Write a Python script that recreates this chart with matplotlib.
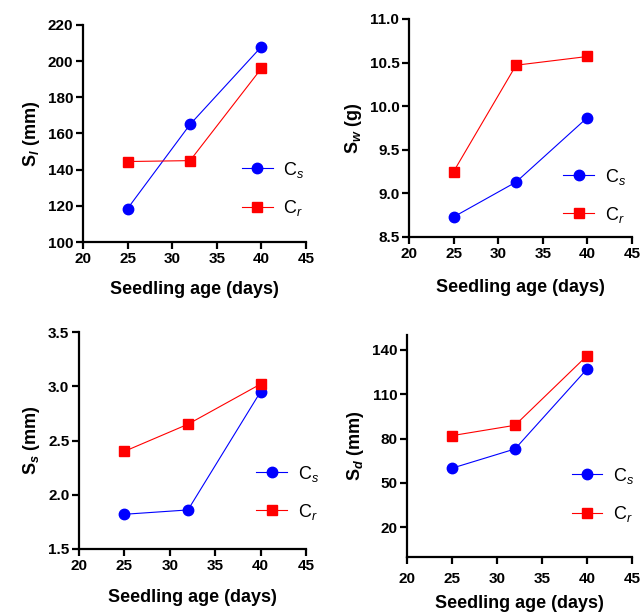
import matplotlib.pyplot as plt

plt.rcParams['font.family'] = ['Liberation Sans', 'DejaVu Sans']
plt.rcParams['mathtext.fontset'] = 'custom'
plt.rcParams['mathtext.rm'] = 'Liberation Sans'
plt.rcParams['mathtext.it'] = 'Liberation Sans:italic'
plt.rcParams['mathtext.bf'] = 'Liberation Sans:bold'
plt.rcParams['mathtext.bfit'] = 'Liberation Sans:italic:bold'

age = [25, 32, 40]

# seedling length (mm)
sl_cs = [118.5, 165, 208]
sl_cr = [144.5, 145, 196]
# seedling weight (g)
sw_cs = [8.73, 9.13, 9.87]
sw_cr = [9.25, 10.47, 10.57]
# stem size (mm)
ss_cs = [1.82, 1.86, 2.95]
ss_cr = [2.40, 2.65, 3.02]
# S_d (mm)
sd_cs = [60, 73, 127]
sd_cr = [82, 89, 136]

W, H = 642, 613

panels = [
    # (left, right, top, bottom) px, data, ylabel, ylim, yticks, fmt, legend anchor, xtick pad, xlabel pad
    ((83, 306, 25, 242), sl_cs, sl_cr, r'S$_\mathbfit{l}$ (mm)', (100, 220),
     [100, 120, 140, 160, 180, 200, 220], None, (0.68, 0.245), 2, 11),
    ((409, 632, 19, 237), sw_cs, sw_cr, r'S$_\mathbfit{w}$ (g)', (8.5, 11.0),
     [8.5, 9.0, 9.5, 10.0, 10.5, 11.0], '%.1f', (0.66, 0.19), 2, 13),
    ((79, 306, 332, 549), ss_cs, ss_cr, r'S$_\mathbfit{s}$ (mm)', (1.5, 3.5),
     [1.5, 2.0, 2.5, 3.0, 3.5], '%.1f', (0.75, 0.26), 2, 12),
    ((407, 632, 335, 557), sd_cs, sd_cr, r'S$_\mathbfit{d}$ (mm)', (0, 150),
     [20, 50, 80, 110, 140], None, (0.70, 0.28), 6, 6),
]

fig = plt.figure(figsize=(W / 100, H / 100), dpi=100)

for (l, r, t, b), cs, cr, ylab, ylim, yticks, fmt, anchor, xpad, lpad in panels:
    ax = fig.add_axes([l / W, 1 - b / H, (r - l) / W, (b - t) / H])
    ax.plot(age, cs, color='#0000ff', marker='o', markersize=7.5, lw=0.8,
            label=r'C$_\mathit{s}$', clip_on=False, zorder=3)
    ax.plot(age, cr, color='#ff0000', marker='s', markersize=7, lw=0.8,
            label=r'C$_\mathit{r}$', clip_on=False, zorder=3)
    ax.set_xlim(20, 45)
    ax.set_xticks([20, 25, 30, 35, 40, 45])
    ax.set_ylim(*ylim)
    ax.set_yticks(yticks)
    if fmt:
        ax.set_yticklabels([fmt % v for v in yticks])
    for s in ['top', 'right']:
        ax.spines[s].set_visible(False)
    for s in ['left', 'bottom']:
        ax.spines[s].set_linewidth(1.6)
    ax.tick_params(direction='out', length=5, width=1.6, labelsize=11, pad=2)
    ax.tick_params(axis='x', pad=xpad)
    for lab in ax.get_xticklabels() + ax.get_yticklabels():
        lab.set_fontweight('bold')
    ax.set_xlabel('Seedling age (days)', fontsize=13, fontweight='bold', labelpad=lpad)
    ax.set_ylabel(ylab, fontsize=13, fontweight='bold', labelpad=4)
    ax.legend(loc='center left', bbox_to_anchor=anchor, frameon=False,
              fontsize=13, handlelength=1.7, labelspacing=1.0, handletextpad=0.6,
              borderaxespad=0)

fig.savefig('out.png', dpi=100)
